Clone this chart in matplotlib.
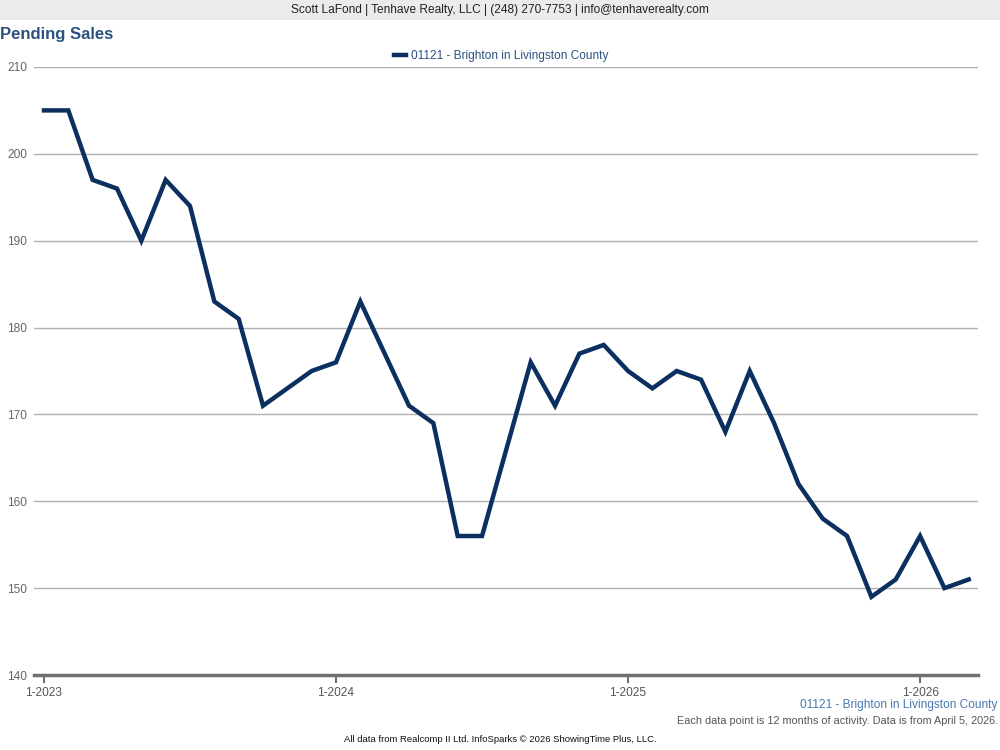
import matplotlib.pyplot as plt
import matplotlib.patches as patches

plt.rcParams['font.family'] = ['Liberation Sans', 'DejaVu Sans']

# Pending sales, monthly, Jan 2023 - Mar 2026
months = list(range(39))
values = [205, 205, 197, 196, 190, 197, 194, 183, 181, 171, 173, 175,
          176, 183, 177, 171, 169, 156, 156, 166, 176, 171, 177, 178,
          175, 173, 175, 174, 168, 175, 169, 162, 158, 156, 149, 151,
          156, 150, 151]
tick_pos = [0, 12, 24, 36]
tick_labels = ['1-2023', '1-2024', '1-2025', '1-2026']
series_name = '01121 - Brighton in Livingston County'

fig = plt.figure(figsize=(10, 7.5), dpi=100)

# top contact band
fig.patches.append(patches.Rectangle((0, 1 - 20 / 750), 1, 20 / 750, transform=fig.transFigure,
                                     facecolor='#ebebeb', edgecolor='none'))
fig.text(0.5, 1 - 10.5 / 750, 'Scott LaFond | Tenhave Realty, LLC | (248) 270-7753 | info@tenhaverealty.com',
         ha='center', va='center', fontsize=8.6, color='#222222')
fig.text(0.0, 1 - 34 / 750, 'Pending Sales', ha='left', va='center', fontsize=12,
         fontweight='bold', color='#2c5282')

ax = fig.add_axes([0.034, 0.1, 0.944, 0.8107])
ax.plot(months, values, color='#0b2f5e', linewidth=3.2, solid_joinstyle='miter', label=series_name)
ax.set_xlim(-0.41, 38.38)
ax.set_ylim(140, 210)
ax.set_yticks(range(140, 211, 10))
ax.yaxis.grid(True, color='#b0b0b0', linewidth=1)
ax.set_axisbelow(True)
for s in ['top', 'right', 'left']:
    ax.spines[s].set_visible(False)
ax.spines['bottom'].set_color('#707070')
ax.spines['bottom'].set_linewidth(2.5)
ax.set_xticks(tick_pos)
ax.set_xticklabels(tick_labels)
ax.tick_params(axis='x', length=6, width=1.5, color='#707070', labelsize=8.6, labelcolor='#555555', pad=3)
ax.tick_params(axis='y', length=0, labelsize=8.6, labelcolor='#666666', pad=5)

leg = ax.legend(loc='lower center', bbox_to_anchor=(0.495, 1.0), frameon=False, fontsize=8.6,
                handlelength=1.0, handletextpad=0.4, borderaxespad=0.0)
for t in leg.get_texts():
    t.set_color('#2c5282')

fig.text(0.998, 1 - 705 / 750, series_name, ha='right', va='center', fontsize=8.6, color='#4a78b0')
fig.text(0.998, 1 - 721 / 750, 'Each data point is 12 months of activity. Data is from April 5, 2026.',
         ha='right', va='center', fontsize=7.8, color='#555555')
fig.text(0.5, 1 - 740 / 750, 'All data from Realcomp II Ltd. InfoSparks \u00a9 2026 ShowingTime Plus, LLC.',
         ha='center', va='center', fontsize=6.8, color='#111111')

fig.savefig('out.png', dpi=100)
